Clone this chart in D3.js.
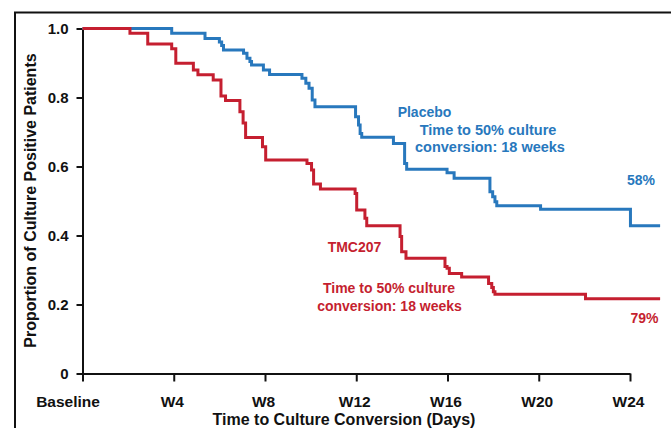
<!DOCTYPE html>
<html>
<head>
<meta charset="utf-8">
<script src="https://cdn.jsdelivr.net/npm/d3@7"></script>
<style>
  html, body { margin: 0; padding: 0; background: #fff; }
  svg { display: block; font-family: "Liberation Sans", Arial, sans-serif; }
</style>
</head>
<body>
<svg id="chart" width="671" height="428"></svg>
<script>
// ---- data ----
const xTickWeeks = [0, 4, 8, 12, 16, 20, 24];
const xTickLabels = ["Baseline", "W4", "W8", "W12", "W16", "W20", "W24"];
const yTickValues = [0, 0.2, 0.4, 0.6, 0.8, 1.0];
const yTickLabels = ["0", "0.2", "0.4", "0.6", "0.8", "1.0"];
const followUpEnd = 25.32;

// Placebo: step times (weeks) and proportion after each step
const placeboTimes = [3.91, 5.37, 6.00, 6.10, 6.18, 7.06, 7.21, 7.34, 7.41, 7.93, 8.20, 9.62, 9.79, 9.93, 10.07, 10.19,
  11.97, 12.10, 12.17, 12.24, 13.63, 14.12, 14.21, 15.98, 16.29, 17.86, 17.98, 18.08, 18.16, 20.08, 24.02];
const placeboProp = [0.986, 0.971, 0.961, 0.951, 0.938, 0.928, 0.914, 0.904, 0.894, 0.880, 0.867, 0.856, 0.841, 0.827, 0.793, 0.773,
  0.744, 0.720, 0.696, 0.685, 0.667, 0.609, 0.592, 0.582, 0.566, 0.527, 0.512, 0.498, 0.486, 0.476, 0.428];

// TMC207
const tmcTimes = [2.08, 2.86, 3.91, 4.09, 4.86, 5.06, 5.73, 6.07, 6.27, 6.90, 7.04, 7.15, 7.89, 8.03, 9.84, 10.04, 10.13, 10.43,
  11.95, 12.02, 12.38, 12.46, 13.92, 13.99, 14.18, 15.89, 15.98, 16.08, 16.62, 17.80, 17.94, 18.01, 18.08, 22.05];
const tmcProp = [0.986, 0.955, 0.941, 0.899, 0.880, 0.866, 0.851, 0.804, 0.791, 0.759, 0.726, 0.684, 0.657, 0.619, 0.609, 0.590, 0.549, 0.535,
  0.522, 0.474, 0.450, 0.428, 0.397, 0.353, 0.334, 0.310, 0.305, 0.290, 0.280, 0.261, 0.249, 0.237, 0.230, 0.217];

const seriesNames = ["Placebo", "TMC207"];
const medianText = ["Time to 50% culture", "conversion: 18 weeks"];
const endLabels = ["58%", "79%"];

// ---- drawing ----
const BLUE = "#2878bd", RED = "#c51f30";
const svg = d3.select("#chart");

const x = d3.scaleLinear().domain([0, 24]).range([82.5, 630]);
const y = d3.scaleLinear().domain([0, 1]).range([373.5, 28.5]);

// frame
svg.append("rect").attr("x", 15).attr("y", 12.5).attr("width", 720).attr("height", 480)
  .attr("fill", "none").attr("stroke", "#111").attr("stroke-width", 2);

function steps(times, props) {
  const pts = [[0, 1]];
  times.forEach((t, i) => pts.push([t, props[i]]));
  pts.push([followUpEnd, props[props.length - 1]]);
  return pts;
}
const line = d3.line().x(d => x(d[0])).y(d => y(d[1])).curve(d3.curveStepAfter);

// axes
const xAxis = d3.axisBottom(x).tickValues(xTickWeeks)
  .tickFormat((d, i) => xTickLabels[i]).tickSize(8).tickSizeOuter(0).tickPadding(14);
const gx = svg.append("g").attr("transform", `translate(0,${y(0)})`).call(xAxis);
gx.select(".domain").attr("stroke", "#111").attr("stroke-width", 2);
gx.selectAll(".tick line").attr("stroke", "#111").attr("stroke-width", 2);
gx.selectAll(".tick text").attr("fill", "#111").attr("font-size", "15.5px").attr("font-weight", "bold")
  .attr("font-family", "'Liberation Sans', Arial, sans-serif")
  .attr("dx", (d, i) => i === 0 ? -15 : -2);

const yAxis = d3.axisLeft(y).tickValues(yTickValues)
  .tickFormat((d, i) => yTickLabels[i]).tickSize(6).tickSizeOuter(0).tickPadding(8);
const gy = svg.append("g").attr("transform", `translate(${x(0)},0)`).call(yAxis);
gy.select(".domain").attr("stroke", "#111").attr("stroke-width", 2);
gy.selectAll(".tick line").attr("stroke", "#111").attr("stroke-width", 2);
gy.selectAll(".tick text").attr("fill", "#111").attr("font-size", "15px").attr("font-weight", "bold")
  .attr("font-family", "'Liberation Sans', Arial, sans-serif");

// curves
svg.append("path").datum(steps(placeboTimes, placeboProp)).attr("d", line)
  .attr("fill", "none").attr("stroke", BLUE).attr("stroke-width", 3);
svg.append("path").datum(steps(tmcTimes, tmcProp)).attr("d", line)
  .attr("fill", "none").attr("stroke", RED).attr("stroke-width", 3);

// titles
svg.append("text").attr("x", 344).attr("y", 425).attr("text-anchor", "middle")
  .attr("font-size", "16px").attr("font-weight", "bold").attr("fill", "#111")
  .text("Time to Culture Conversion (Days)");
svg.append("text").attr("transform", "translate(36,200.5) rotate(-90)").attr("text-anchor", "middle")
  .attr("font-size", "16px").attr("font-weight", "bold").attr("fill", "#111")
  .text("Proportion of Culture Positive Patients");

// annotations
function label(txt, cx, by, color, size) {
  svg.append("text").attr("x", cx).attr("y", by).attr("text-anchor", "middle")
    .attr("font-size", size + "px").attr("font-weight", "bold").attr("fill", color).text(txt);
}
label(seriesNames[0], 424.5, 116.7, BLUE, 14);
label(medianText[0], 488, 135, BLUE, 14.5);
label(medianText[1], 490, 152.3, BLUE, 14.5);
label(endLabels[0], 641, 185, BLUE, 14);

label(seriesNames[1], 354.5, 252.3, RED, 14);
label(medianText[0], 389, 293.3, RED, 14);
label(medianText[1], 389.5, 310.7, RED, 14);
label(endLabels[1], 644.5, 322.7, RED, 14);
</script>
</body>
</html>
